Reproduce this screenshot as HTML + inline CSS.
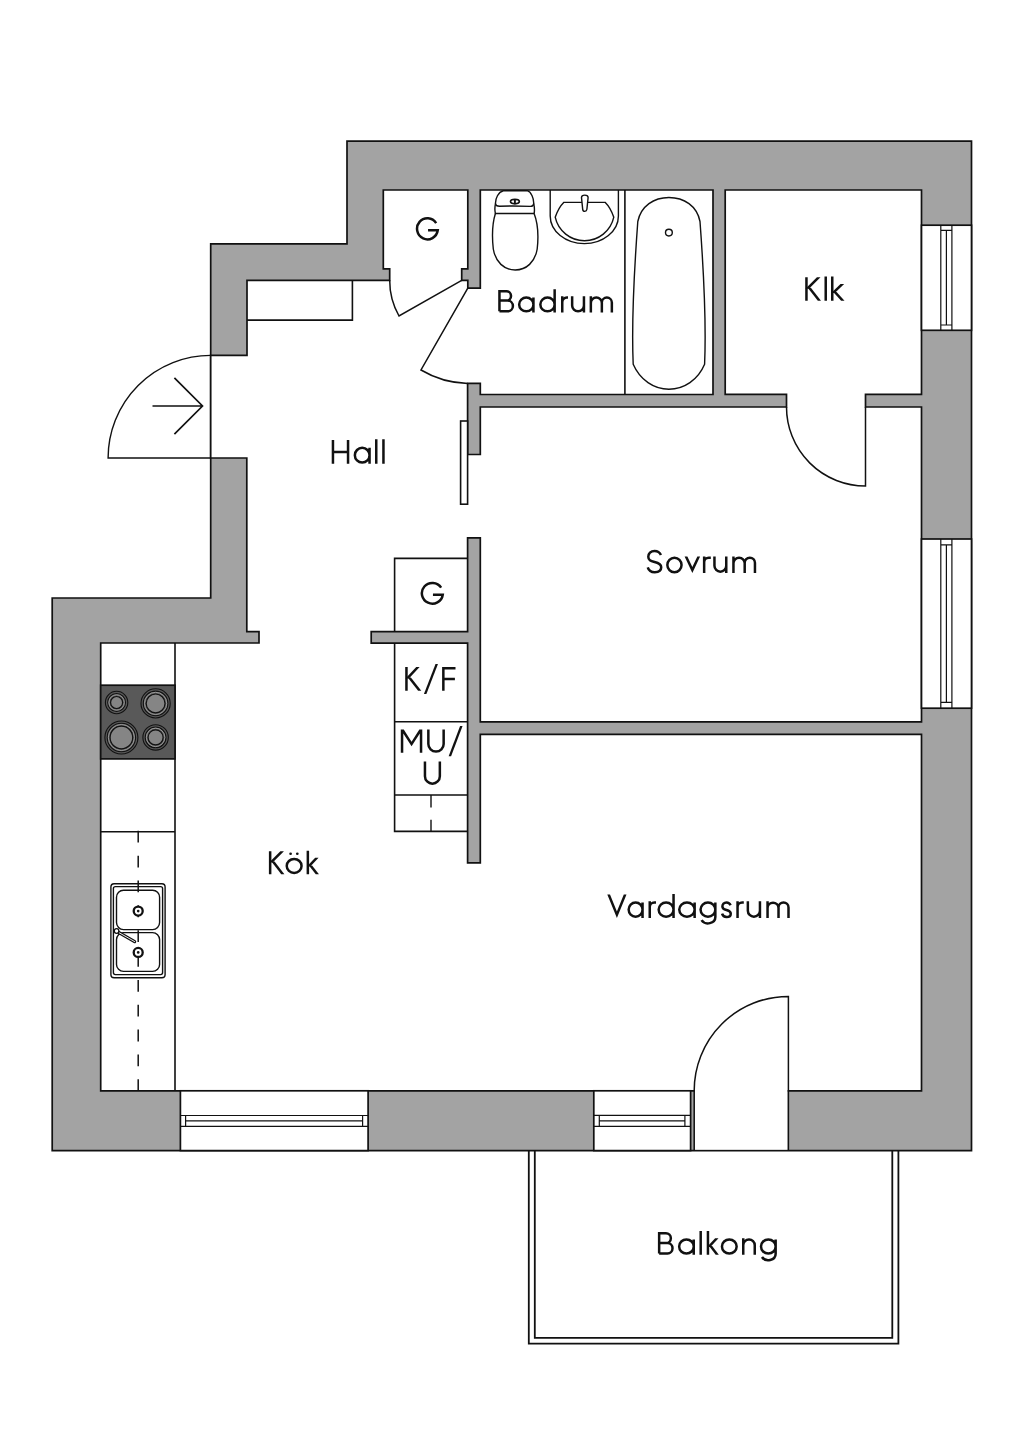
<!DOCTYPE html>
<html><head><meta charset="utf-8">
<style>
html,body{margin:0;padding:0;background:#fff;width:1024px;height:1448px;overflow:hidden}
svg{display:block}
text{font-family:"Liberation Sans",sans-serif;fill:#111;stroke:none}
</style></head><body>
<svg width="1024" height="1448" viewBox="0 0 1024 1448">
<g stroke="#111" stroke-width="1.7" stroke-linejoin="miter">
<!-- outer walls -->
<polygon fill="#a3a3a3" points="347,141.2 971.5,141.2 971.5,1150.6 52.2,1150.6 52.2,598 210.7,598 210.7,243.8 347,243.8"/>
<!-- interior open space -->
<polygon fill="#fff" points="
247,280.3 389.7,280.3 389.7,268.8 383.3,268.8 383.3,190 467.8,190 467.8,268.8 461.7,268.8 461.7,280.3 467.8,280.3 467.8,288.1
480.3,288.1 480.3,190 713,190 713,394.5 480.3,394.5 480.3,383.4 467.6,383.4 467.6,454.5
480.3,454.5 480.3,407 786.5,407 786.5,394.3 725.2,394.3 725.2,190 921.5,190 921.5,394.3 865.5,394.3 865.5,407 921.5,407
921.5,721.8 480.3,721.8 480.3,537.8 467.6,537.8 467.6,631.6 371.2,631.6 371.2,643.2 467.6,643.2 467.6,862.9 480.3,862.9 480.3,734.3
921.5,734.3 921.5,1090.8 100.7,1090.8 100.7,643 259,643 259,631.6 246.8,631.6 246.8,458 210.7,458 210.7,355.4 247,355.4"/>
<!-- windows -->
<rect x="921.5" y="225.2" width="50" height="105.1" fill="#fff"/>
<rect x="921.5" y="539" width="50" height="169.2" fill="#fff"/>
<rect x="180.4" y="1090.8" width="187.7" height="59.8" fill="#fff"/>
<rect x="593.8" y="1090.8" width="96.8" height="59.8" fill="#fff"/>
<!-- balcony door opening -->
<rect x="695" y="1089.5" width="92.6" height="60.2" fill="#fff" stroke="none"/>
</g>
<g fill="none" stroke="#111" stroke-width="1.6">
<!-- window frames -->
<path d="M940.8,225.2 V330.3 M951.9,225.2 V330.3 M940.8,230.3 H951.9 M940.8,325 H951.9 M946.4,230.3 V325" stroke-width="1.2"/>
<path d="M940.8,539 V708.2 M951.9,539 V708.2 M940.8,544.8 H951.9 M940.8,702.4 H951.9 M946.4,544.8 V702.4" stroke-width="1.2"/>
<path d="M180.4,1115.5 H368.1 M180.4,1126.4 H368.1 M185.6,1115.5 V1126.4 M362.6,1115.5 V1126.4 M185.6,1120.9 H362.6" stroke-width="1.2"/>
<path d="M593.8,1115.3 H690.6 M593.8,1126.3 H690.6 M599.3,1115.3 V1126.3 M684.9,1115.3 V1126.3 M599.3,1120.9 H684.9" stroke-width="1.2"/>
<!-- entrance door -->
<path d="M210.7,355.4 A102.6,102.6 0 0 0 108.1,458 H210.7" stroke-width="1.4"/>
<path d="M152.5,406 H202.5 M174.4,377.9 L202.5,406 L174.4,434.1" stroke-width="1.7"/>
<!-- G closet door -->
<path d="M461.7,280.3 L399,316 A72,72 0 0 1 389.7,280.3" stroke-width="1.5"/>
<!-- Badrum door -->
<path d="M467.8,288.1 L421,370 A95.3,95.3 0 0 0 467.6,383.4" stroke-width="1.5"/>
<!-- Klk door -->
<path d="M786.5,407 A79,79 0 0 0 865.5,486 V407" stroke-width="1.5"/>
<!-- balcony door -->
<path d="M788.4,1150.6 V996.4 A94.2,94.2 0 0 0 694.2,1090.6 V1150.6" stroke-width="1.5"/>
<!-- balcony -->
<path d="M528.8,1150.6 V1343.7 H898.4 V1150.6 M534.8,1150.6 V1337.8 H892.3 V1150.6" stroke-width="1.8"/>
<!-- sliding door panel -->
<rect x="460.6" y="421" width="7" height="83.2" fill="#fff"/>
<!-- hall shelf -->
<path d="M247,320.1 H352.4 V280.3"/>
<!-- hall cabinets -->
<path d="M467.6,558.4 H394.6 V631.6 M394.6,643.2 V831.4 H467.6 M394.6,721.7 H467.6 M394.6,795 H467.6"/>
<path d="M431,795 V831.4" stroke-dasharray="12.4 12.4" stroke-width="1.4"/>
<!-- kitchen counter -->
<path d="M175,643 V1090.8 M100.7,831.7 H175"/>
<path d="M138.2,830.8 V1090.8" stroke-dasharray="11.8 13.05" stroke-width="1.5"/>
</g>
<!-- badrum fixtures -->
<g fill="none" stroke="#111" stroke-width="1.4">
<path d="M624.9,190 V394.5" stroke-width="1.6"/>
<!-- tub -->
<path d="M637.8,221.5 C641,206 654,197.5 668.9,197.5 C684,197.5 697,206 700,221.5 C703,262 706.6,318 704.6,364.3 C698,380 684,389.3 668.9,389.3 C654,389.3 640,380 633.2,364.3 C631.2,318 634.8,262 637.8,221.5 Z"/>
<circle cx="668.9" cy="232.6" r="3.4"/>
<!-- sink -->
<path d="M550.2,190 V216 A34.1,27.6 0 0 0 618.4,216 V190"/>
<path d="M563.7,202.4 H605.3 Q610.5,207.5 613.8,217.2 A30,30 0 0 1 555.2,217.2 Q558.5,207.5 563.7,202.4 Z"/>
<path d="M581.5,197.6 C581.5,194.3 588.1,194.3 588.1,197.6 L586.9,209.3 C586.6,212 583,212 582.7,209.3 Z" fill="#fff"/>
<!-- toilet -->
<path d="M503.3,190.7 H527.3 C531.3,192 533.9,198.5 533.7,203.6 Q533.5,206.4 530.5,206.4 Q515,205.7 499.6,206.2 Q495.7,206.2 495.5,203.6 C495.3,198.5 498.3,192 503.3,190.7 Z"/>
<path d="M495.5,203.6 C494.7,207 494.7,210.5 495.4,213.5 H534.1 C534.7,210.5 534.5,207 533.7,203.6"/>
<path d="M495.4,213.5 C491.5,226 492.3,240 493.3,249 C495.5,262 504,270 515.2,270 C526.4,270 535,262 537.2,249 C538.2,240 539,226 534.1,213.5"/>
<ellipse cx="514.9" cy="201.6" rx="4.4" ry="2.2" stroke-width="1.7"/>
<path d="M514.9,199.6 V203.6" stroke-width="1.9"/>
</g>
<!-- kitchen sink -->
<g fill="none" stroke="#111" stroke-width="1.4">
<rect x="110.9" y="883.8" width="54.2" height="94" rx="3.2"/>
<rect x="113.4" y="886.6" width="49.2" height="88" rx="2"/>
<rect x="116.5" y="890.3" width="43.1" height="39.3" rx="7"/>
<rect x="116.5" y="932.6" width="43.1" height="38.8" rx="7"/>
<circle cx="138.2" cy="911.1" r="4.5" stroke-width="2.3" fill="#fff"/>
<circle cx="138.2" cy="952.4" r="4.5" stroke-width="2.3" fill="#fff"/>
<circle cx="138.2" cy="911.1" r="1.3" fill="#111" stroke="none"/>
<circle cx="138.2" cy="952.4" r="1.3" fill="#111" stroke="none"/>
<path d="M118.6,932.4 L134.6,941.6" stroke-width="3.3" stroke-linecap="round"/>
<path d="M118.6,932.4 L134.6,941.6" stroke="#fff" stroke-width="0.9" stroke-linecap="round"/>
<circle cx="116.6" cy="931" r="2.3" fill="#fff" stroke-width="1.3"/>
</g>
<!-- stove -->
<g stroke="#111">
<rect x="100.7" y="685.2" width="74.3" height="73.7" fill="#595959" stroke-width="1.7"/>
<circle cx="116.6" cy="702.5" r="11.2" fill="none" stroke-width="1.1"/><circle cx="116.6" cy="702.5" r="8.9" fill="none" stroke-width="1.1"/><circle cx="116.6" cy="702.5" r="7.7" fill="none" stroke="#9a9a9a" stroke-width="1"/><circle cx="116.6" cy="702.5" r="6.0" fill="#858585" stroke-width="1.2"/>
<circle cx="155.6" cy="703.4" r="14.6" fill="none" stroke-width="1.1"/><circle cx="155.6" cy="703.4" r="12.3" fill="none" stroke-width="1.1"/><circle cx="155.6" cy="703.4" r="11.1" fill="none" stroke="#9a9a9a" stroke-width="1"/><circle cx="155.6" cy="703.4" r="9.4" fill="#858585" stroke-width="1.2"/>
<circle cx="121.4" cy="737.5" r="16.5" fill="none" stroke-width="1.1"/><circle cx="121.4" cy="737.5" r="14.2" fill="none" stroke-width="1.1"/><circle cx="121.4" cy="737.5" r="13.0" fill="none" stroke="#9a9a9a" stroke-width="1"/><circle cx="121.4" cy="737.5" r="11.3" fill="#858585" stroke-width="1.2"/>
<circle cx="155.6" cy="737.4" r="12.7" fill="none" stroke-width="1.1"/><circle cx="155.6" cy="737.4" r="10.4" fill="none" stroke-width="1.1"/><circle cx="155.6" cy="737.4" r="9.2" fill="none" stroke="#9a9a9a" stroke-width="1"/><circle cx="155.6" cy="737.4" r="7.5" fill="#858585" stroke-width="1.2"/>
</g>
<!-- texts -->
<path fill="none" stroke="#111" stroke-width="2.5" stroke-linejoin="miter" stroke-miterlimit="6" d="M436.17,223.05A10.4,10.55 0 1 0 437.75,230.27H428.05M441.16,587.66A10.5,10.35 0 1 0 442.75,594.74H432.95M499.45,311.35V291.35H506.42A4.62,4.62 0 0 1 506.42,300.6H499.45M506.42,300.6H507.77A5.38,5.38 0 0 1 507.77,311.35H499.45M519.15,304.45A7.15,6.9 0 1 0 533.45,304.45A7.15,6.9 0 1 0 519.15,304.45M533.45,297.55V312.6M540.35,304.45A7.15,6.9 0 1 0 554.65,304.45A7.15,6.9 0 1 0 540.35,304.45M554.65,289.2V312.6M562.25,296.3V312.6M562.25,302.15A4.6,4.6 0 0 1 566.85,297.55H568M572.15,296.3V305.45A5.9,5.9 0 0 0 583.95,305.45M583.95,296.3V312.6M590.85,296.3V312.6M590.85,303.05A5.5,5.5 0 0 1 601.85,303.05V312.6M601.85,302.55A5,5 0 0 1 611.85,302.55V312.6M806.45,277.3V300.7M825.73,276.6V300.7M832.25,276.6V300.7M332.95,440V463.75M348.05,440V463.75M332.95,451.88H348.05M354.85,455.18A7.35,7.32 0 1 0 369.55,455.18A7.35,7.32 0 1 0 354.85,455.18M369.55,447.85V463.75M376.25,439.3V463.75M383.45,439.3V463.75M660.94,554.98C659.58,552.01 657,550.95 654.55,550.95C650.74,550.95 648.29,553.71 648.29,556.67C648.29,560.07 650.47,560.91 654.55,561.97C658.9,563.03 661.21,564.52 661.21,567.27C661.21,570.67 658.63,572.15 654.82,572.15C651.42,572.15 648.7,570.45 647.75,567.27M667.35,564.9A7.1,7.25 0 1 0 681.55,564.9A7.1,7.25 0 1 0 667.35,564.9M704.15,556.4V572.9M704.15,562.25A4.6,4.6 0 0 1 708.75,557.65H710.8M714.45,556.4V565.75A5.9,5.9 0 0 0 726.25,565.75M726.25,556.4V572.9M733.45,556.4V572.9M733.45,563.27A5.62,5.62 0 0 1 744.7,563.27V572.9M744.7,562.77A5.12,5.12 0 0 1 754.95,562.77V572.9M406.45,667.1V690.8M443.35,690.8V668.35H455.5M443.35,678.95H454.9M428.35,729.5V743.9A7.65,7.65 0 0 0 443.65,743.9V729.5M424.95,761.6V776.2A7.45,7.45 0 0 0 439.85,776.2V761.6M270.15,851.25V874.2M286.75,865.95A7.4,7 0 1 0 301.55,865.95A7.4,7 0 1 0 286.75,865.95M307.85,850.8V874.2M628.65,909.6A6.95,7.15 0 1 0 642.55,909.6A6.95,7.15 0 1 0 628.65,909.6M642.55,902.45V918M649.75,901.2V918M649.75,907.05A4.6,4.6 0 0 1 654.35,902.45H656M658.65,909.6A7.45,7.15 0 1 0 673.55,909.6A7.45,7.15 0 1 0 658.65,909.6M673.55,894V918M679.25,909.6A7.7,7.15 0 1 0 694.65,909.6A7.7,7.15 0 1 0 679.25,909.6M694.65,902.45V918M700.55,909.6A7.4,7.15 0 1 0 715.35,909.6A7.4,7.15 0 1 0 700.55,909.6M715.35,902.45V917M715.35,917A7.4,6.35 0 0 1 701.54,920.17M730.59,905.22C729.71,903.18 728.03,902.45 726.45,902.45C723.99,902.45 722.4,904.35 722.4,906.39C722.4,908.73 723.81,909.31 726.45,910.04C729.27,910.77 730.76,911.79 730.76,913.69C730.76,916.03 729.09,917.05 726.63,917.05C724.43,917.05 722.67,915.88 722.05,913.69M737.55,901.2V918M737.55,907.05A4.6,4.6 0 0 1 742.15,902.45H743.8M747.85,901.2V910.7A6.05,6.05 0 0 0 759.95,910.7M759.95,901.2V918M767.55,901.2V918M767.55,907.94A5.49,5.49 0 0 1 778.52,907.94V918M778.52,907.44A4.99,4.99 0 0 1 788.5,907.44V918M659.15,1253.55V1233.25H665.93A4.92,4.92 0 0 1 665.93,1243.1H659.15M665.93,1243.1H667.52A5.23,5.23 0 0 1 667.52,1253.55H659.15M679.15,1246.5A7.3,7.05 0 1 0 693.75,1246.5A7.3,7.05 0 1 0 679.15,1246.5M693.75,1239.45V1254.8M700.7,1231V1254.8M707.95,1231V1254.8M721.95,1246.5A7.35,7.05 0 1 0 736.65,1246.5A7.35,7.05 0 1 0 721.95,1246.5M743.25,1238.2V1254.8M743.25,1245.2A5.75,5.75 0 0 1 754.75,1245.2V1254.8M761,1246.5A7.32,7.05 0 1 0 775.65,1246.5A7.32,7.05 0 1 0 761,1246.5M775.65,1239.45V1253.8M775.65,1253.8A7.32,6.45 0 0 1 761.98,1257.02"/><g fill="#111"><circle cx="290.6" cy="853.75" r="1.35"/><circle cx="297.3" cy="853.75" r="1.35"/><polygon points="816.96,277.30 820.52,277.30 808.98,288.66 805.42,288.66"/><polygon points="807.72,287.66 810.88,287.66 821.00,300.70 817.83,300.70"/><polygon points="840.53,284.10 844.15,284.10 834.81,293.00 831.19,293.00"/><polygon points="833.22,291.90 836.58,291.90 844.51,300.70 841.15,300.70"/><polygon points="684.60,556.40 687.36,556.40 692.35,567.02 697.34,556.40 700.10,556.40 692.35,572.90"/><polygon points="416.22,667.10 419.64,667.10 408.91,678.60 405.49,678.60"/><polygon points="407.71,677.60 410.89,677.60 421.30,690.80 418.11,690.80"/><polygon points="423.94,693.90 426.40,693.90 437.96,663.90 435.50,663.90"/><polygon points="400.80,752.80 400.80,729.50 403.77,729.50 411.55,741.66 419.33,729.50 422.30,729.50 422.30,752.80 419.80,752.80 419.80,733.41 411.55,746.30 403.30,733.41 403.30,752.80"/><polygon points="448.64,756.20 451.10,756.20 462.56,726.10 460.10,726.10"/><polygon points="280.37,851.25 283.92,851.25 272.67,862.41 269.13,862.41"/><polygon points="271.42,861.41 274.58,861.41 284.39,874.20 281.24,874.20"/><polygon points="315.16,857.70 318.58,857.70 310.31,866.55 306.89,866.55"/><polygon points="308.91,865.45 312.09,865.45 318.93,874.20 315.76,874.20"/><polygon points="607.30,894.60 610.00,894.60 616.90,911.41 623.80,894.60 626.50,894.60 616.90,918.00"/><polygon points="715.11,1238.20 718.49,1238.20 710.39,1247.10 707.01,1247.10"/><polygon points="709.03,1246.00 712.17,1246.00 718.84,1254.80 715.70,1254.80"/></g>
</svg>
</body></html>
